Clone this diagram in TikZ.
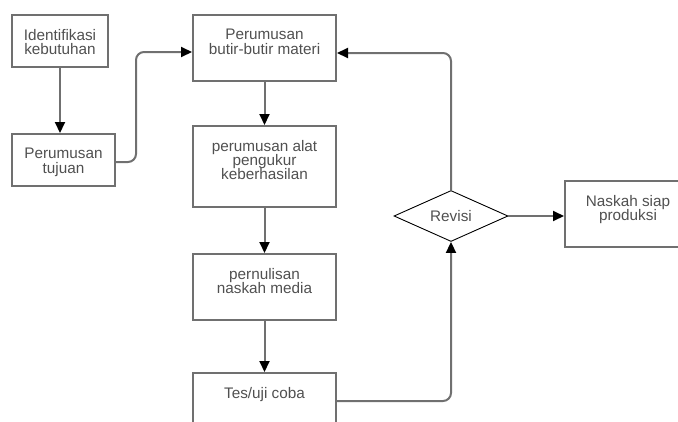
\documentclass[tikz,border=0pt]{standalone}
\usepackage{fontspec}
\setmainfont{Liberation Sans}
\usetikzlibrary{arrows.meta,shapes.geometric}
\definecolor{linegray}{HTML}{707070}
\definecolor{textgray}{HTML}{505050}
\begin{document}
\begin{tikzpicture}[x=1pt,y=-1pt,
  box/.style={draw=linegray, line width=2pt, minimum width=143pt, minimum height=66pt, inner sep=0pt},
  lbl/.style={anchor=north, yshift=-15pt, align=center, text=textgray, inner sep=0pt,
    font=\fontsize{15.3}{14.3}\selectfont},
  conn/.style={draw=linegray, line width=2pt, rounded corners=8pt,
    -{Triangle[length=11pt,width=10pt,color=black]}}
]
\useasboundingbox (0,0) rectangle (678,421);
\begin{scope}
\clip (0,0) rectangle (678,421);
\node[box, minimum width=96pt, minimum height=52pt, label={[lbl]north:Identifikasi\\kebutuhan}] (iden) at (60,41) {};
\node[box, minimum width=103pt, minimum height=52pt, label={[lbl]north:Perumusan\\tujuan}] (tuj) at (63.5,160) {};
\node[box, label={[lbl]north:Perumusan\\butir-butir materi}] (butir) at (264.5,48) {};
\node[box, minimum height=81pt, label={[lbl]north:perumusan alat\\pengukur\\keberhasilan}] (alat) at (264.5,166.5) {};
\node[box, label={[lbl]north:pernulisan\\naskah media}] (pern) at (264.5,287) {};
\node[box, label={[lbl]north:Tes/uji coba}] (tes) at (264.5,406) {};
\node[diamond, draw=black, line width=0.9pt, minimum width=114pt, minimum height=51pt, inner sep=0pt, aspect=2.2,
  text=textgray, font=\fontsize{15.3}{14.3}\selectfont] (rev) at (451,216) {Revisi};
\node[box, minimum width=126pt, label={[lbl]north:Naskah siap\\produksi}] (nas) at (628,214) {};

\draw[conn] (iden.south) -- (iden.south |- tuj.north);
\coordinate (c1) at (136,162);
\draw[conn] (tuj.east |- c1) -- (c1) |- ([yshift=-4pt]butir.west);
\draw[conn] (butir.south) -- (alat.north);
\draw[conn] (alat.south) -- (pern.north);
\draw[conn] (pern.south) -- (tes.north);
\coordinate (c2) at (451,401);
\draw[conn] (tes.east |- c2) -| (rev.south);
\coordinate (c3) at (451,53);
\draw[conn] (rev.north) -- (c3) -- (c3 -| butir.east);
\draw[conn] (rev.east) -- (rev.east -| nas.west);
\end{scope}
\end{tikzpicture}
\end{document}
